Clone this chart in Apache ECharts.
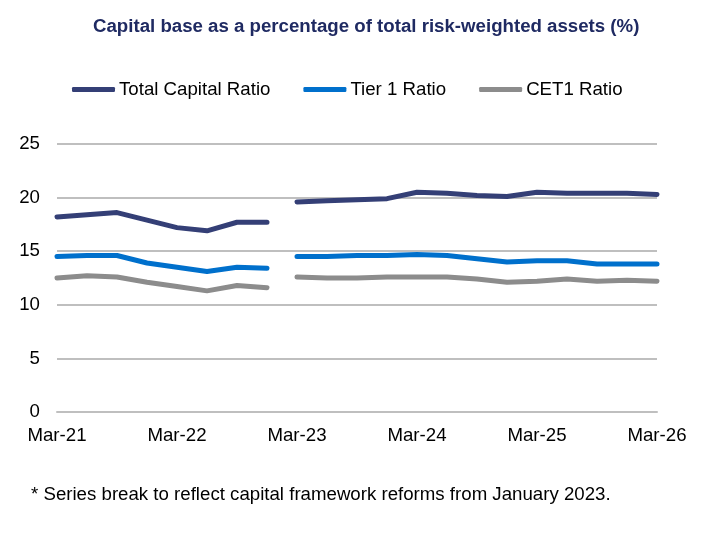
<!DOCTYPE html>
<html>
<head>
<meta charset="utf-8">
<script src="https://cdn.jsdelivr.net/npm/echarts@6/dist/echarts.min.js"></script>
<style>
  html, body { margin: 0; padding: 0; background: #fff; }
  #chart { width: 724px; height: 550px; }
</style>
</head>
<body>
<div id="chart"></div>
<script>
var quarters = ['Mar-21', 'Jun-21', 'Sep-21', 'Dec-21', 'Mar-22', 'Jun-22', 'Sep-22', 'Dec-22',
    'Mar-23', 'Jun-23', 'Sep-23', 'Dec-23', 'Mar-24', 'Jun-24', 'Sep-24', 'Dec-24',
    'Mar-25', 'Jun-25', 'Sep-25', 'Dec-25', 'Mar-26'];

// before the January 2023 reforms (Mar-21 .. Dec-22)
var totalBefore = [18.2, 18.4, 18.6, 17.9, 17.2, 16.9, 17.7, 17.7];
var tier1Before = [14.5, 14.6, 14.6, 13.9, 13.5, 13.1, 13.5, 13.4];
var cet1Before = [12.5, 12.7, 12.6, 12.1, 11.7, 11.3, 11.8, 11.6];

// after the reforms (Mar-23 .. Mar-26)
var totalAfter = [19.6, 19.7, 19.8, 19.9, 20.5, 20.4, 20.2, 20.1, 20.5, 20.4, 20.4, 20.4, 20.3];
var tier1After = [14.5, 14.5, 14.6, 14.6, 14.7, 14.6, 14.3, 14.0, 14.1, 14.1, 13.8, 13.8, 13.8];
var cet1After = [12.6, 12.5, 12.5, 12.6, 12.6, 12.6, 12.4, 12.1, 12.2, 12.4, 12.2, 12.3, 12.2];

var yTicks = [0, 5, 10, 15, 20, 25];

var breakAt = totalBefore.length;
var fs = 18.67; // 14pt

function pad(before, after) {
    var out = [];
    for (var i = 0; i < quarters.length; i++) {
        if (before && i < breakAt) out.push(before[i]);
        else if (after && i >= breakAt) out.push(after[i - breakAt]);
        else out.push('-');
    }
    return out;
}

function line(name, color, data) {
    return {
        name: name,
        type: 'line',
        data: data,
        symbol: 'none',
        lineStyle: { color: color, width: 5, cap: 'round', join: 'round' },
        itemStyle: { color: color },
        connectNulls: false,
        animation: false
    };
}

var colors = { total: '#343F76', tier1: '#0070CC', cet1: '#8C8C8C' };

var chart = echarts.init(document.getElementById('chart'));

chart.setOption({
    backgroundColor: '#fff',
    textStyle: { fontFamily: 'Liberation Sans, Arial, sans-serif' },
    title: {
        text: 'Capital base as a percentage of total risk-weighted assets (%)',
        left: 88,
        top: 12,
        textStyle: { color: '#1F2A62', fontSize: fs, fontWeight: 'bold' }
    },
    legend: {
        data: ['Total Capital Ratio', 'Tier 1 Ratio', 'CET1 Ratio'],
        top: 75,
        left: 67,
        icon: 'roundRect',
        itemWidth: 43,
        itemHeight: 5,
        itemGap: 33,
        textStyle: { fontSize: fs, color: '#000', padding: [0, 0, 0, -1] }
    },
    grid: { left: 57, right: 67, top: 144, bottom: 138, containLabel: false },
    xAxis: {
        type: 'category',
        data: quarters,
        boundaryGap: false,
        axisLine: { lineStyle: { color: '#BFBFBF', width: 2 } },
        axisTick: { show: false },
        axisLabel: { interval: 3, color: '#000', fontSize: fs, margin: 14 }
    },
    yAxis: {
        type: 'value',
        min: yTicks[0],
        max: yTicks[yTicks.length - 1],
        interval: 5,
        axisLine: { show: false },
        axisTick: { show: false },
        axisLabel: { color: '#000', fontSize: fs, margin: 17 },
        splitLine: { lineStyle: { color: '#BFBFBF', width: 2 } }
    },
    series: [
        line('Total Capital Ratio', colors.total, pad(totalBefore, null)),
        line('Total Capital Ratio', colors.total, pad(null, totalAfter)),
        line('Tier 1 Ratio', colors.tier1, pad(tier1Before, null)),
        line('Tier 1 Ratio', colors.tier1, pad(null, tier1After)),
        line('CET1 Ratio', colors.cet1, pad(cet1Before, null)),
        line('CET1 Ratio', colors.cet1, pad(null, cet1After))
    ],
    graphic: [{
        type: 'text',
        left: 31,
        top: 485,
        style: {
            text: '* Series break to reflect capital framework reforms from January 2023.',
            fill: '#000',
            font: fs + 'px Liberation Sans, Arial, sans-serif'
        }
    }]
});
</script>
</body>
</html>
